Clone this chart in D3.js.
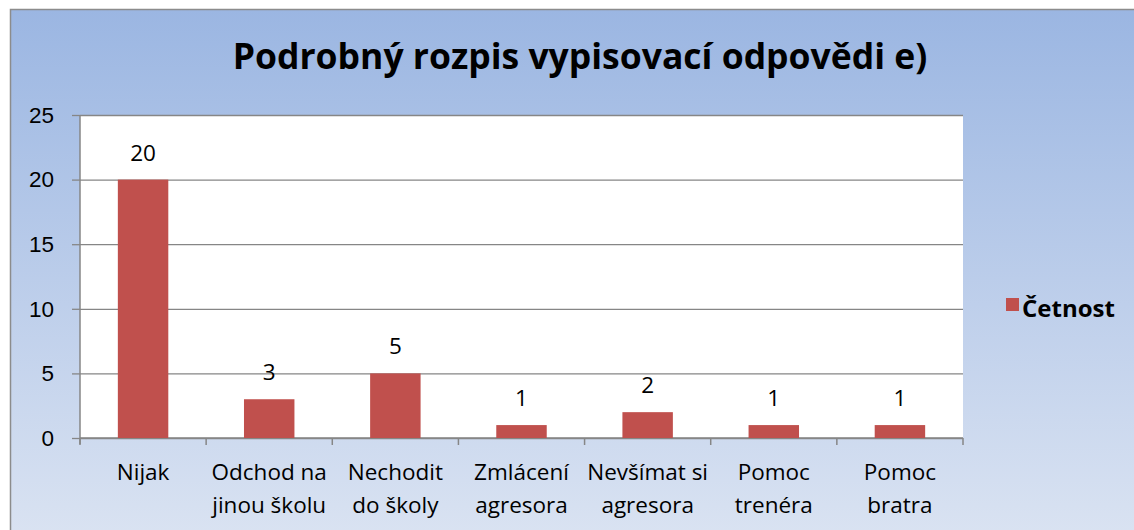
<!DOCTYPE html>
<html>
<head>
<meta charset="utf-8">
<script src="https://cdn.jsdelivr.net/npm/d3@7"></script>
<style>
  body { margin: 0; background: #fff; }
  svg { display: block; font-family: "Open Sans", sans-serif; }
</style>
</head>
<body>
<svg id="chart" width="1134" height="530"></svg>
<script>
const categories = [
  ["Nijak"],
  ["Odchod na", "jinou školu"],
  ["Nechodit", "do školy"],
  ["Zmlácení", "agresora"],
  ["Nevšímat si", "agresora"],
  ["Pomoc", "trenéra"],
  ["Pomoc", "bratra"],
];
const values = [20, 3, 5, 1, 2, 1, 1];
const yTicks = [0, 5, 10, 15, 20, 25];
const seriesName = "Četnost";
const title = "Podrobný rozpis vypisovací odpovědi e)";

const svg = d3.select("#chart");
const W = 1134, H = 530;
const FS = 22.5;

// background gradient
const defs = svg.append("defs");
const grad = defs.append("linearGradient")
  .attr("id", "bg").attr("x1", 0).attr("y1", 0).attr("x2", 0).attr("y2", 1);
grad.append("stop").attr("offset", "0%").attr("stop-color", "#9bb6e2");
grad.append("stop").attr("offset", "100%").attr("stop-color", "#dae3f2");

svg.append("rect")
  .attr("x", 10.5).attr("y", 9.5)
  .attr("width", W).attr("height", H)
  .attr("fill", "url(#bg)")
  .attr("stroke", "#8c8c8c").attr("stroke-width", 1.5);

const margin = { top: 115, left: 80, right: W - 963, bottom: H - 438 };
const innerW = W - margin.left - margin.right;
const innerH = H - margin.top - margin.bottom;

const x = d3.scaleBand()
  .domain(d3.range(categories.length))
  .range([0, innerW])
  .paddingInner(0.6)
  .paddingOuter(0.3);

const y = d3.scaleLinear().domain([0, 25]).range([innerH, 0]);

const g = svg.append("g").attr("transform", `translate(${margin.left},${margin.top})`);

g.append("rect").attr("width", innerW).attr("height", innerH).attr("fill", "#fff");

// gridlines + y axis
const yAxis = g.append("g")
  .call(d3.axisLeft(y).tickValues(yTicks).tickSize(-innerW).tickPadding(26));
yAxis.select(".domain").remove();
yAxis.selectAll(".tick line").attr("stroke", "#868686").attr("stroke-width", 1.3);
yAxis.selectAll(".tick text")
  .attr("font-size", FS).attr("fill", "#000");
// small outside tick marks
yAxis.selectAll(".tick").append("line")
  .attr("x1", -8).attr("x2", 0).attr("stroke", "#868686").attr("stroke-width", 1.3);

g.append("line")
  .attr("x1", 0).attr("x2", 0).attr("y1", 0).attr("y2", innerH + 6)
  .attr("stroke", "#868686").attr("stroke-width", 1.5);

// x axis
const boundaries = d3.range(categories.length + 1).map((i) => i * innerW / categories.length);
g.append("line")
  .attr("x1", 0).attr("x2", innerW).attr("y1", innerH).attr("y2", innerH)
  .attr("stroke", "#868686").attr("stroke-width", 1.5);
g.selectAll(".xtick")
  .data(boundaries)
  .join("line")
  .attr("class", "xtick")
  .attr("x1", (d) => d).attr("x2", (d) => d)
  .attr("y1", innerH).attr("y2", innerH + 7)
  .attr("stroke", "#868686").attr("stroke-width", 1.5);

// bars
g.selectAll(".bar")
  .data(values)
  .join("rect")
  .attr("class", "bar")
  .attr("x", (d, i) => x(i))
  .attr("y", (d) => y(d))
  .attr("width", x.bandwidth())
  .attr("height", (d) => innerH - y(d))
  .attr("fill", "#c0504d");

// data labels
g.selectAll(".lbl")
  .data(values)
  .join("text")
  .attr("class", "lbl")
  .attr("x", (d, i) => x(i) + x.bandwidth() / 2)
  .attr("y", (d) => y(d) - 19)
  .attr("text-anchor", "middle")
  .attr("font-size", FS)
  .text((d) => d);

// category labels
const cat = g.selectAll(".cat")
  .data(categories)
  .join("text")
  .attr("class", "cat")
  .attr("text-anchor", "middle")
  .attr("font-size", FS)
  .attr("transform", (d, i) => `translate(${x(i) + x.bandwidth() / 2},${innerH + 42})`);
cat.selectAll("tspan")
  .data((d) => d)
  .join("tspan")
  .attr("x", 0)
  .attr("dy", (d, i) => (i === 0 ? 0 : 33))
  .text((d) => d);

// title
svg.append("text")
  .attr("x", 580).attr("y", 69)
  .attr("text-anchor", "middle")
  .attr("font-size", 35.5).attr("font-weight", "bold")
  .text(title);

// legend
svg.append("rect")
  .attr("x", 1006).attr("y", 298).attr("width", 13).attr("height", 13)
  .attr("fill", "#c0504d");
svg.append("text")
  .attr("x", 1022).attr("y", 317)
  .attr("font-size", 24).attr("font-weight", "bold")
  .text(seriesName);
</script>
</body>
</html>
